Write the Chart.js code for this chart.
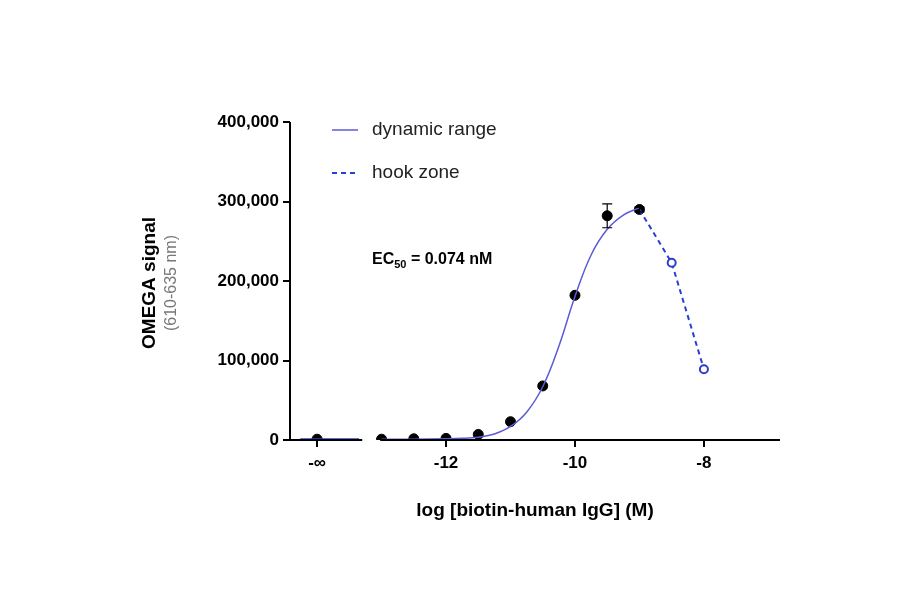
<!DOCTYPE html>
<html><head><meta charset="utf-8">
<script src="https://cdn.jsdelivr.net/npm/chart.js@4"></script>
<style>html,body{margin:0;background:#fff}#w{width:900px;height:594px}</style>
</head><body><div id="w"><canvas id="c"></canvas></div>
<script>
const NEG_INF_X = -14.0;
const pointX = [NEG_INF_X, -13, -12.5, -12, -11.5, -11, -10.5, -10, -9.5, -9];
const pointY = [1000, 1000, 1500, 2000, 7000, 23000, 68000, 182000, 282000, 290000];
const pointErr = [0, 0, 0, 0, 0, 0, 0, 0, 15000, 3000];
const fitX = [-13, -12.5, -12, -11.75, -11.5, -11.25, -11, -10.75, -10.5, -10.25, -10, -9.75, -9.5, -9.25, -9];
const fitY = [1000, 1100, 1500, 2100, 3600, 7500, 17000, 35000, 67000, 118000, 180500, 232700, 265000, 283000, 292000];
const baseX = [-14.26, -13.35];
const baseY = [1000, 1000];
const hookX = [-9, -8.5, -8];
const hookY = [290000, 223000, 89000];
const xTicks = [NEG_INF_X, -12, -10, -8];
const yTicks = [0, 100000, 200000, 300000, 400000];

const FONT = '"Liberation Sans", Arial, sans-serif';
const xy = (xs, ys) => xs.map((x, i) => ({x, y: ys[i]}));

const deco = {
  id: 'deco',
  afterDraw(ch) {
    const c = ch.ctx, xs = ch.scales.x, ys = ch.scales.y, a = ch.chartArea;
    c.save();
    c.strokeStyle = '#000'; c.lineWidth = 2;
    c.beginPath(); c.moveTo(a.left, a.top); c.lineTo(a.left, a.bottom); c.stroke();
    const br = xs.getPixelForValue(-13.3);
    c.beginPath(); c.moveTo(a.left - 1, a.bottom); c.lineTo(br, a.bottom);
    c.moveTo(br + 18, a.bottom); c.lineTo(a.right, a.bottom); c.stroke();
    c.lineWidth = 1.2;
    pointX.forEach((x, i) => {
      if (!pointErr[i]) return;
      const px = xs.getPixelForValue(x), y1 = ys.getPixelForValue(pointY[i] + pointErr[i]), y2 = ys.getPixelForValue(pointY[i] - pointErr[i]);
      c.beginPath(); c.moveTo(px, y1); c.lineTo(px, y2);
      c.moveTo(px - 5, y1); c.lineTo(px + 5, y1); c.moveTo(px - 5, y2); c.lineTo(px + 5, y2); c.stroke();
    });
    c.strokeStyle = '#5b5bd6'; c.lineWidth = 1.5;
    c.beginPath(); c.moveTo(332, 130); c.lineTo(358, 130); c.stroke();
    c.strokeStyle = '#2a3fd0'; c.lineWidth = 2; c.setLineDash([5, 4]);
    c.beginPath(); c.moveTo(332, 173); c.lineTo(358, 173); c.stroke(); c.setLineDash([]);
    c.fillStyle = '#222'; c.font = '19px ' + FONT; c.textBaseline = 'middle';
    c.fillText('dynamic range', 372, 130); c.fillText('hook zone', 372, 173);
    c.fillStyle = '#000'; c.font = 'bold 16px ' + FONT;
    c.fillText('EC', 372, 260); let w = c.measureText('EC').width;
    c.font = 'bold 11px ' + FONT; c.fillText('50', 372 + w, 265); w += c.measureText('50').width;
    c.font = 'bold 16px ' + FONT; c.fillText(' = 0.074 nM', 372 + w, 260);
    c.translate(150, (a.top + a.bottom) / 2 + 2); c.rotate(-Math.PI / 2);
    c.textAlign = 'center';
    c.font = 'bold 19px ' + FONT; c.fillStyle = '#000'; c.fillText('OMEGA signal', 0, 0);
    c.font = '16px ' + FONT; c.fillStyle = '#777'; c.fillText('(610-635 nm)', 0, 22);
    c.restore();
  }
};

new Chart(document.getElementById('c'), {
  type: 'scatter',
  data: { datasets: [
    { data: xy(fitX, fitY), showLine: true, borderColor: '#5b5bd6', borderWidth: 1.5, pointRadius: 0, tension: 0.4 },
    { data: xy(baseX, baseY), showLine: true, borderColor: '#2a3fd0', borderWidth: 2, pointRadius: 0 },
    { data: xy(hookX, hookY), showLine: true, borderColor: '#2a3fd0', borderWidth: 2, borderDash: [5, 4],
      pointRadius: [0, 4, 4], pointBackgroundColor: '#fff', pointBorderColor: '#2a3fd0', pointBorderWidth: 2 },
    { data: xy(pointX, pointY), showLine: false, pointRadius: 5, pointBackgroundColor: '#000', pointBorderColor: '#000' }
  ]},
  options: {
    responsive: true, maintainAspectRatio: false, animation: false,
    layout: { padding: { top: 122, right: 120, left: 0, bottom: 68 } },
    plugins: { legend: { display: false }, tooltip: { enabled: false } },
    scales: {
      x: { min: -14.42, max: -6.82,
        afterBuildTicks: s => { s.ticks = xTicks.map(v => ({value: v})); },
        afterFit: s => { s.height = 86; },
        border: { display: false },
        grid: { drawOnChartArea: false, color: '#000', lineWidth: 2, tickLength: 7 },
        ticks: { color: '#000', font: { family: FONT, size: 17, weight: 'bold' }, padding: 6,
          callback: v => v === NEG_INF_X ? '-∞' : String(v) },
        title: { display: true, text: 'log [biotin-human IgG] (M)', color: '#000', font: { family: FONT, size: 19, weight: 'bold' }, padding: { top: 8 } }
      },
      y: { min: 0, max: 400000,
        afterBuildTicks: s => { s.ticks = yTicks.map(v => ({value: v})); },
        afterFit: s => { s.width = 290; },
        border: { display: false },
        grid: { drawOnChartArea: false, color: '#000', lineWidth: 2, tickLength: 7 },
        ticks: { color: '#000', font: { family: FONT, size: 17, weight: 'bold' }, padding: 4,
          callback: v => v.toLocaleString('en-US') }
      }
    }
  },
  plugins: [deco]
});
</script></body></html>
